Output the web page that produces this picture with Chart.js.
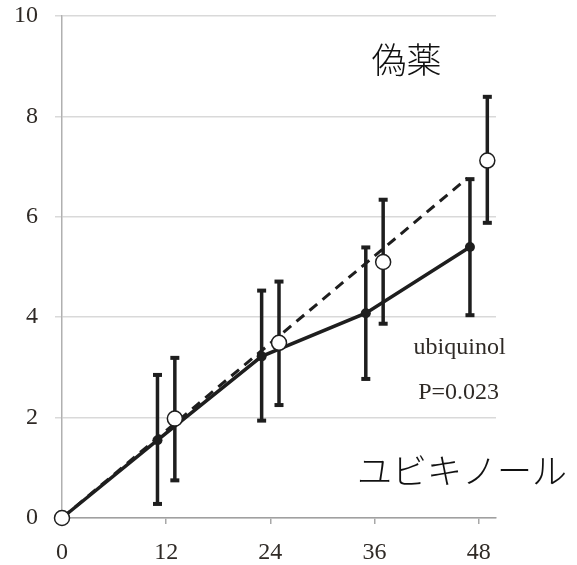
<!DOCTYPE html>
<html lang="ja">
<head>
<meta charset="utf-8">
<title>ubiquinol vs 偽薬</title>
<script src="https://cdn.jsdelivr.net/npm/chart.js@4.4.1/dist/chart.umd.min.js"></script>
<style>
  html, body { margin: 0; padding: 0; background: #fff; }
  #wrap { width: 577px; height: 565px; position: relative; }
</style>
</head>
<body>
<div id="wrap"><canvas id="chart"></canvas></div>
<script>
// ---- data ----
const X_TICKS = [0, 12, 24, 36, 48];
const Y_TICKS = [0, 2, 4, 6, 8, 10];

// ubiquinol (filled dots, solid line) — plotted slightly left of each visit
const UBIQ_X  = [0, 11, 23, 35, 47];
const UBIQ_Y  = [0, 1.55, 3.22, 4.08, 5.40];
const UBIQ_LO = [null, 0.28, 1.94, 2.77, 4.04];
const UBIQ_HI = [null, 2.85, 4.53, 5.39, 6.75];

// placebo (open circles) — plotted slightly right of each visit
const PLAC_X  = [0, 13, 25, 37, 49];
const PLAC_Y  = [0, 1.98, 3.49, 5.10, 7.12];
const PLAC_LO = [null, 0.75, 2.25, 3.87, 5.88];
const PLAC_HI = [null, 3.19, 4.71, 6.34, 8.39];

// dashed placebo trend line
const FIT_X = [0, 46.7];
const FIT_Y = [0, 6.77];

const INK = "#1e1e1e";
const LABEL = "#2f2a26";

function pts(xs, ys) {
  return xs.map((x, i) => ({ x, y: ys[i] }));
}

// vertical whiskers, one segment per point, broken by null gaps
function whiskers(xs, lo, hi) {
  const out = [];
  xs.forEach((x, i) => {
    if (lo[i] == null) return;
    out.push({ x, y: lo[i] }, { x, y: hi[i] }, { x, y: null });
  });
  return out;
}

function caps(xs, lo, hi) {
  const out = [];
  xs.forEach((x, i) => {
    if (lo[i] == null) return;
    out.push({ x, y: lo[i] }, { x, y: hi[i] });
  });
  return out;
}

// text placed in data units
const notes = {
  id: "notes",
  afterDraw(chart) {
    const { ctx } = chart;
    const sx = chart.scales.x, sy = chart.scales.y;
    const items = [
      { t: "偽薬", x: 39.7, y: 9.12, font: "300 35px 'Noto Sans CJK JP'", color: "#111", align: "center" },
      { t: "ubiquinol", x: 45.8, y: 3.39, font: "24px 'Liberation Serif'", color: LABEL, align: "center" },
      { t: "P=0.023", x: 45.7, y: 2.49, font: "24px 'Liberation Serif'", color: LABEL, align: "center" },
      { t: "ユビキノール", x: 34.0, y: 0.94, font: "300 35px 'Noto Sans CJK JP'", color: "#111", align: "left" },
    ];
    ctx.save();
    ctx.textBaseline = "middle";
    items.forEach(n => {
      ctx.font = n.font;
      ctx.fillStyle = n.color;
      ctx.textAlign = n.align;
      ctx.fillText(n.t, sx.getPixelForValue(n.x), sy.getPixelForValue(n.y));
    });
    ctx.restore();
  }
};

const ctx = document.getElementById("chart").getContext("2d");

new Chart(ctx, {
  type: "line",
  data: {
    datasets: [
      {
        label: "placebo",
        data: pts(PLAC_X, PLAC_Y),
        showLine: false, clip: false,
        pointRadius: 7.5, pointBorderWidth: 1.5,
        pointBackgroundColor: "#fff", pointBorderColor: INK,
        order: 0,
      },
      {
        label: "ubiquinol",
        data: pts(UBIQ_X, UBIQ_Y),
        clip: false,
        borderColor: INK, borderWidth: 3.5, tension: 0,
        pointRadius: 5, pointBorderWidth: 0,
        pointBackgroundColor: INK,
        order: 1,
      },
      {
        label: "placebo trend",
        data: pts(FIT_X, FIT_Y),
        borderColor: INK, borderWidth: 3, borderDash: [10, 7],
        pointRadius: 0,
        order: 2,
      },
      {
        label: "ubiquinol SD",
        data: whiskers(UBIQ_X, UBIQ_LO, UBIQ_HI),
        borderColor: INK, borderWidth: 3.5, spanGaps: false,
        pointRadius: 0,
        order: 3,
      },
      {
        label: "placebo SD",
        data: whiskers(PLAC_X, PLAC_LO, PLAC_HI),
        borderColor: INK, borderWidth: 3.5, spanGaps: false,
        pointRadius: 0,
        order: 3,
      },
      {
        label: "caps",
        data: caps(UBIQ_X, UBIQ_LO, UBIQ_HI).concat(caps(PLAC_X, PLAC_LO, PLAC_HI)),
        showLine: false, clip: false,
        pointStyle: "line", pointRadius: 4.5, pointBorderWidth: 4,
        pointBorderColor: INK,
        order: 3,
      },
    ]
  },
  options: {
    responsive: true,
    maintainAspectRatio: false,
    animation: false,
    layout: { padding: { top: 16, right: 81, left: 0, bottom: 0 } },
    plugins: { legend: { display: false }, tooltip: { enabled: false } },
    scales: {
      x: {
        type: "linear", min: 0, max: 50,
        afterBuildTicks: s => { s.ticks = X_TICKS.map(v => ({ value: v })); },
        afterFit: s => { s.height = 47; },
        grid: { drawOnChartArea: false, drawTicks: true, tickLength: 6, color: "#a8a8a8", lineWidth: 1.5 },
        border: { color: "#a0a0a0", width: 1.5 },
        ticks: { color: LABEL, font: { family: "'Liberation Serif'", size: 24 }, padding: 14, autoSkip: false, maxRotation: 0 }
      },
      y: {
        min: 0, max: 10,
        afterBuildTicks: s => { s.ticks = Y_TICKS.map(v => ({ value: v })); },
        // fixed gutter; the tick padding should not push the plot down
        afterFit: s => { s.width = 62; s.paddingTop = 0; s.paddingBottom = 0; },
        grid: { color: "#d9d9d9", lineWidth: 1.5, tickLength: 7 },
        border: { color: "#b0b0b0", width: 1.5 },
        ticks: { color: LABEL, font: { family: "'Liberation Serif'", size: 24 }, padding: 17 }
      }
    }
  },
  plugins: [notes]
});
</script>
</body>
</html>
